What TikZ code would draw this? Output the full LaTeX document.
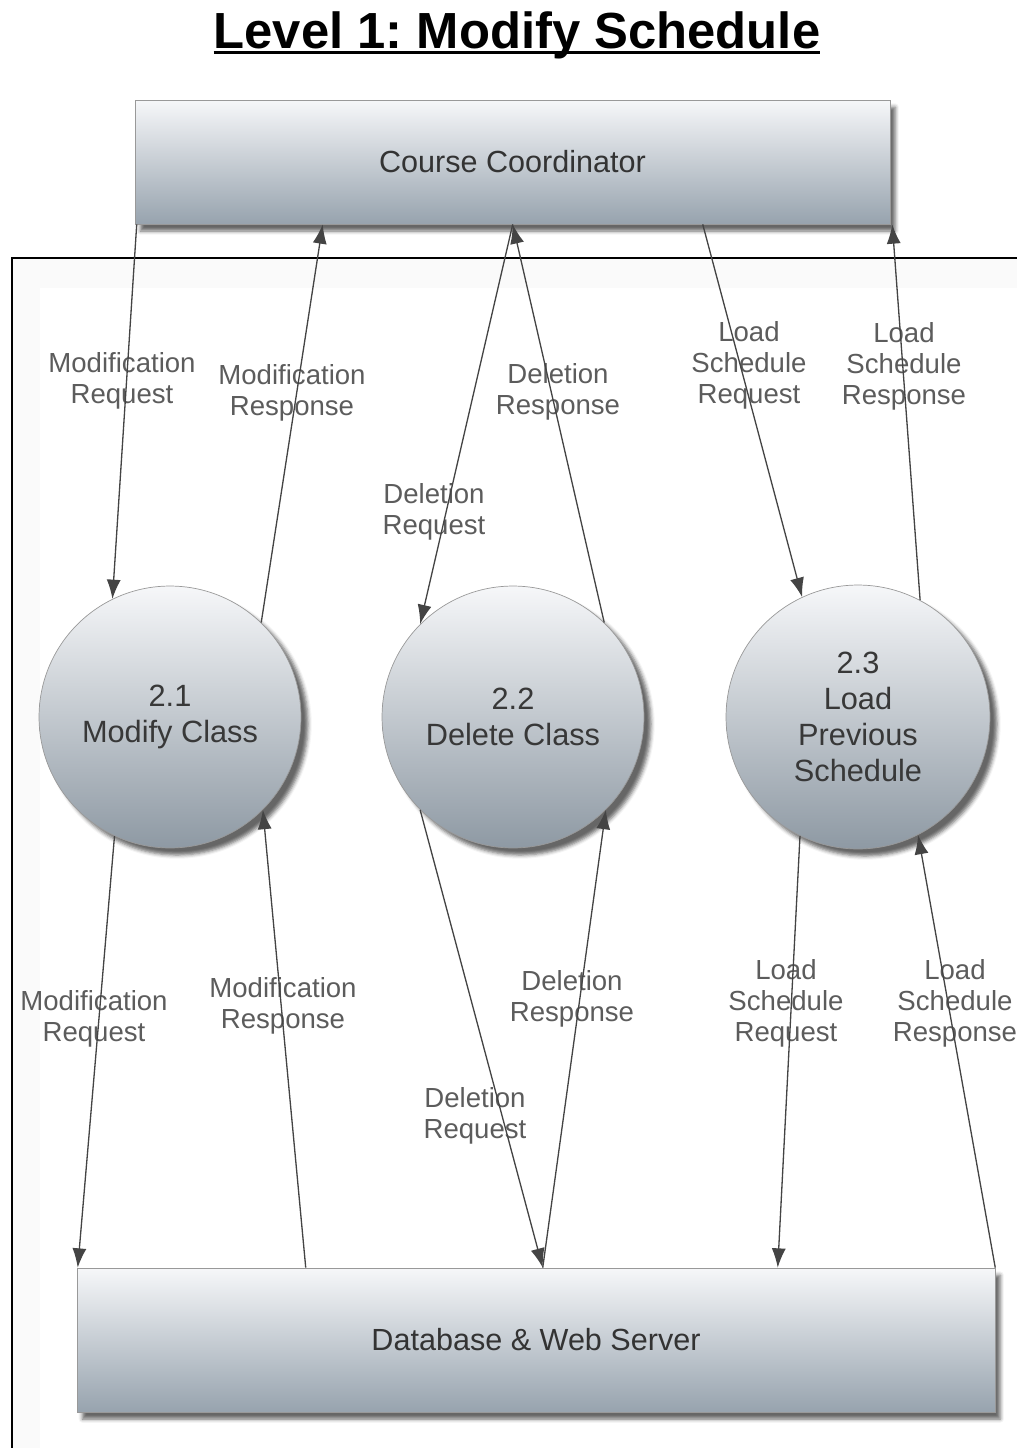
\documentclass[tikz,border=0pt]{standalone}
\usepackage{fontspec}
\setmainfont{Liberation Sans}
\usepackage{xcolor}
\usepackage{tikz}
\usetikzlibrary{calc, positioning, arrows.meta, shadows.blur}

\definecolor{shadetop}{HTML}{F6F7F9}
\definecolor{shademid}{HTML}{D9DEE2}
\definecolor{shadebot}{HTML}{97A3AE}
\definecolor{flowgray}{HTML}{444444}
\definecolor{labelgray}{HTML}{5C5C5C}

\newsavebox{\titlebox}
\newcommand{\titleline}[1]{\sbox{\titlebox}{#1}\rlap{\rule[-3.5pt]{\wd\titlebox}{1.6pt}}\usebox{\titlebox}}

\tikzset{
    entity/.style={rectangle, draw=gray!80, top color=shadetop, middle color=shademid, bottom color=shadebot,
        blur shadow={shadow xshift=3pt, shadow yshift=-4pt, shadow opacity=60},
        text=black!80, font=\fontsize{17.4}{20}\selectfont},
    process/.style={circle, draw=gray!80, top color=shadetop, middle color=shademid, bottom color=shadebot!94!black,
        blur shadow={shadow xshift=4pt, shadow yshift=-4pt, shadow opacity=60},
        inner sep=0pt, align=center, text=black!78,
        font=\fontsize{17.5}{20.4}\selectfont},
    flow/.style={draw=flowgray, line width=0.75pt, ->},
    flowlbl/.style={text=labelgray, align=center, inner sep=0pt,
        font=\fontsize{15.7}{17.6}\selectfont},
}

\begin{document}
\frenchspacing
\begin{tikzpicture}[x=0.02cm, y=-0.02cm, >={Latex[length=11pt, width=8pt]}]
    \useasboundingbox (0,0) rectangle (1017,1448);

    % khung hệ thống
    \fill[gray!4] (13,259) rectangle (1017,288);
    \fill[gray!4] (13,288) rectangle (40,1448);
    \draw[line width=1.2pt] (12,1448) -- (12,258) -- (1017,258);

    \node (title) at (517,35) {\fontsize{28.9}{32}\selectfont\bfseries\titleline{Level 1: Modify Schedule}};

    \node[entity, minimum width=15.1cm, minimum height=2.48cm] (cc) at (512.5,162) {Course Coordinator};
    \node[entity, minimum width=18.36cm, minimum height=2.88cm] (db) at (536,1340) {Database \& Web Server};

    \node[process, minimum size=5.24cm] (p21) at (170,717) {2.1\\Modify Class};
    \node[process, minimum size=5.24cm] (p22) at (513,717) {2.2\\Delete Class};
    \node[process, minimum size=5.28cm] (p23) at (858,717) {2.3\\Load\\Previous\\Schedule};

    \node[flowlbl] (l1) at (122,381) {Modification\\Request};
    \node[flowlbl] (l2) at (292,393) {Modification\\Response};
    \node[flowlbl] (l3) at (558,392) {Deletion\\Response};
    \node[flowlbl] (l4) at (434,512) {Deletion\\Request};
    \node[flowlbl] (l5) at (749,365) {Load\\Schedule\\Request};
    \node[flowlbl] (l6) at (904,366) {Load\\Schedule\\Response};
    \node[flowlbl] (l7) at (94,1019) {Modification\\Request};
    \node[flowlbl] (l8) at (283,1006) {Modification\\Response};
    \node[flowlbl] (l9) at (572,999) {Deletion\\Response};
    \node[flowlbl] (l10) at (475,1116) {Deletion\\Request};
    \node[flowlbl] (l11) at (786,1003) {Load\\Schedule\\Request};
    \node[flowlbl] (l12) at (955,1003) {Load\\Schedule\\Response};

    \draw[flow] ($(cc.south west)+(2,0)$) -- (p21.116);
    \draw[flow] (p21.46) -- ($(cc.south west)+(188,0)$);
    \draw[flow] ($(cc.south west)+(378,0)$) -- (p22.135);
    \draw[flow] (p22.46) -- ($(cc.south west)+(378,0)$);
    \draw[flow] ($(cc.south west)+(568,0)$) -- (p23.115);
    \draw[flow] (p23.62) -- ($(cc.south east)+(2,0)$);

    \draw[flow] (p21.245) -- ($(db.north west)+(1,0)$);
    \draw[flow] ($(db.north west)+(229,0)$) -- (p21.315);
    \draw[flow] (p22.225) -- ($(db.north west)+(466,0)$);
    \draw[flow] ($(db.north west)+(466,0)$) -- (p22.315);
    \draw[flow] (p23.244) -- ($(db.north west)+(701,0)$);
    \draw[flow] (db.north east) -- (p23.297);
\end{tikzpicture}
\end{document}
